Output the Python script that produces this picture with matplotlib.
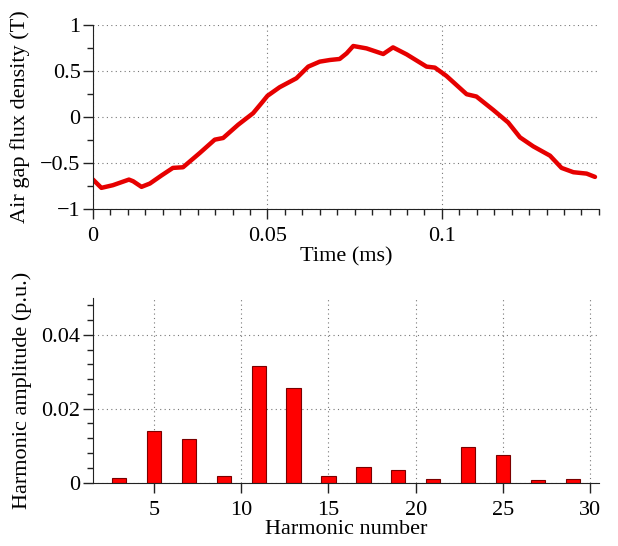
import matplotlib
matplotlib.use('Agg')
from matplotlib import pyplot as plt
from matplotlib.ticker import MultipleLocator

plt.rcParams['font.family'] = ['Liberation Serif', 'DejaVu Serif']
plt.rcParams['font.size'] = 16

# flux density waveform
time_ms = [0.0, 0.0024, 0.0057, 0.0103, 0.0115, 0.0139, 0.0163, 0.0196, 0.0229, 0.0258,
           0.0306, 0.0349, 0.0373, 0.0416, 0.0459, 0.0483, 0.0500, 0.0535, 0.0583, 0.0617,
           0.0650, 0.0679, 0.0707, 0.0727, 0.0746, 0.0784, 0.0832, 0.0860, 0.0899, 0.0956,
           0.0980, 0.1013, 0.1071, 0.1099, 0.1147, 0.1190, 0.1224, 0.1262, 0.1310, 0.1343,
           0.1377, 0.1415, 0.1439]
flux = [-0.679, -0.769, -0.740, -0.679, -0.697, -0.758, -0.722, -0.635, -0.552, -0.545,
        -0.390, -0.245, -0.227, -0.083, 0.043, 0.152, 0.231, 0.325, 0.422, 0.549,
        0.603, 0.621, 0.632, 0.693, 0.773, 0.747, 0.686, 0.758, 0.682, 0.549,
        0.538, 0.448, 0.249, 0.224, 0.079, -0.058, -0.220, -0.318, -0.419, -0.552,
        -0.599, -0.614, -0.650]

# harmonic spectrum
harmonics = [3, 5, 7, 9, 11, 13, 15, 17, 19, 21, 23, 25, 27, 29]
amplitude = [0.0012, 0.0141, 0.0117, 0.0018, 0.0316, 0.0257, 0.0018, 0.0041, 0.0033,
             0.0011, 0.0096, 0.0075, 0.0006, 0.0009]

fig = plt.figure(figsize=(6.18, 5.46), dpi=100)
ax1 = fig.add_axes([0.1505, 0.617, 0.8185, 0.337])
ax2 = fig.add_axes([0.1505, 0.116, 0.8185, 0.3387])

for ax in (ax1, ax2):
    for s in ('top', 'right'):
        ax.spines[s].set_visible(False)
    ax.spines['left'].set_color('#222222')
    ax.spines['bottom'].set_color('#222222')
    ax.grid(True, which='major', linestyle=(0, (1, 3)), color='#777777', linewidth=0.8)
    ax.tick_params(which='major', direction='out', length=7, width=1, color='#222222', pad=2)
    ax.tick_params(which='minor', direction='out', length=4, width=1, color='#222222')
    ax.tick_params(axis='x', which='major', pad=6)
    ax.set_axisbelow(True)

ax1.plot(time_ms, flux, color='#e60000', linewidth=3.2,
         solid_capstyle='round', solid_joinstyle='round')
ax1.set_xlim(0, 0.145)
ax1.set_ylim(-1, 1)
ax1.xaxis.set_minor_locator(MultipleLocator(0.005))
ax1.yaxis.set_minor_locator(MultipleLocator(0.25))
ax1.set_xticks([0, 0.05, 0.1])
ax1.set_xticklabels(['0', '0.05', '0.1'])
ax1.set_yticks([-1, -0.5, 0, 0.5, 1])
ax1.set_yticklabels(['\u22121', '\u22120.5', '0', '0.5', '1'])
ax1.set_xlabel('Time (ms)', labelpad=1)
ax1.set_ylabel('Air gap flux density (T)', labelpad=7)

ax2.bar(harmonics, amplitude, width=0.82, color='#ff0000', edgecolor='#7a0000', linewidth=0.8)
ax2.set_xlim(1.5, 30.5)
ax2.set_ylim(0, 0.05)
ax2.set_xticks([5, 10, 15, 20, 25, 30])
ax2.yaxis.set_minor_locator(MultipleLocator(0.004))
ax2.set_yticks([0, 0.02, 0.04])
ax2.set_yticklabels(['0', '0.02', '0.04'])
ax2.set_xlabel('Harmonic number', labelpad=0)
ax2.set_ylabel('Harmonic amplitude (p.u.)', labelpad=7)

fig.savefig('out.png', dpi=100)
